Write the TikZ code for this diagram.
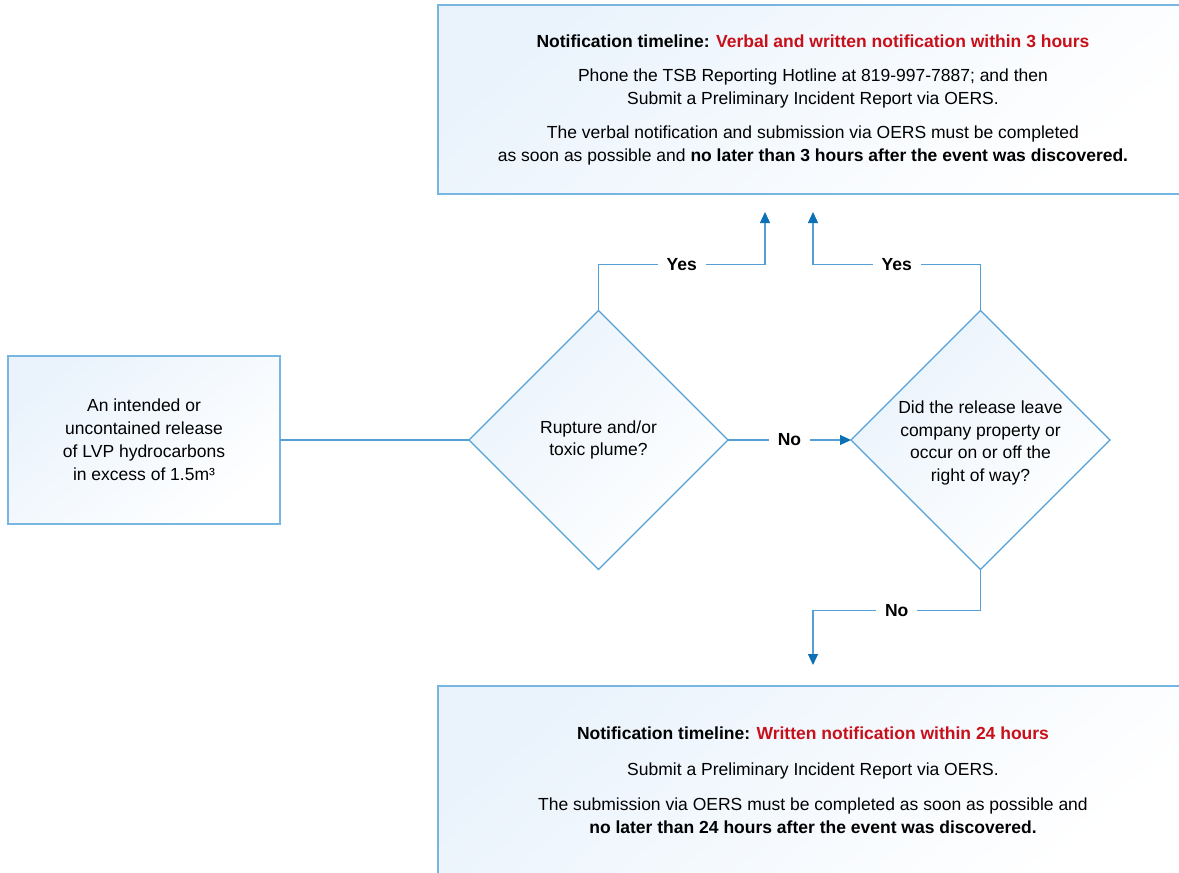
\documentclass[tikz,border=0pt]{standalone}
\usepackage{fontspec}
\setmainfont{Liberation Sans}
\usepackage{tikz}
\usepackage{xcolor}
\usetikzlibrary{shapes.geometric, arrows.meta, positioning}

\definecolor{flowblue}{RGB}{84,160,214}
\definecolor{tipblue}{RGB}{12,112,182}
\definecolor{edgeblue}{RGB}{120,182,226}
\definecolor{tint}{RGB}{234,243,252}
\definecolor{alertred}{RGB}{200,16,26}

\tikzset{
  infobox/.style={rectangle, draw=edgeblue, line width=1.3pt, top color=tint, middle color=white, bottom color=white, shading angle=40, align=center, inner sep=0pt, outer sep=0pt, font=\fontsize{17.5}{23}\selectfont},
  decision/.style={diamond, aspect=1, draw=flowblue, line width=1.2pt, top color=tint, middle color=white, bottom color=white, shading angle=45, minimum size=259pt, inner sep=0pt, outer sep=0pt, align=center, font=\fontsize{17.5}{22.5}\selectfont},
  flow/.style={draw=flowblue, line width=1.2pt, -{Triangle[length=11pt, width=10pt, color=tipblue]}},
  answer/.style={fill=white, inner xsep=9pt, inner ysep=2pt, font=\fontsize{17.5}{18}\selectfont\bfseries}
}

\begin{document}
\begin{tikzpicture}[x=1pt, y=-1pt]
\useasboundingbox (0,0) rectangle (1179,873);

\node[infobox, minimum width=272pt, minimum height=168pt] (release) at (144,440)
  {An intended or\\ uncontained release\\ of LVP hydrocarbons\\ in excess of 1.5m³};
\node[decision, right=189pt of release] (rupture) {Rupture and/or\\ toxic plume?};
\node[decision, right=123pt of rupture] (leave) {\mbox{}\\[-4pt]Did the release leave\\ company property or\\ occur on or off the\\ right of way?};

\node[infobox, minimum width=750pt, minimum height=189pt] (threehours) at (813,99.5)
  {\textbf{Notification timeline: \textcolor{alertred}{Verbal and written notification within 3 hours}}\\[11pt]
   Phone the TSB Reporting Hotline at 819-997-7887; and then\\
   Submit a Preliminary Incident Report via OERS.\\[11pt]
   The verbal notification and submission via OERS must be completed\\
   as soon as possible and \textbf{no later than 3 hours after the event was discovered.}};
\node[infobox, minimum width=750pt, minimum height=189pt] (dayreport) at (813,780.5)
  {\textbf{Notification timeline: \textcolor{alertred}{Written notification within 24 hours}}\\[13pt]
   Submit a Preliminary Incident Report via OERS.\\[12pt]
   The submission via OERS must be completed as soon as possible and\\
   \textbf{no later than 24 hours after the event was discovered.}};

% arrow ends below the boxes
\coordinate (yesleft) at (765,212);
\coordinate (yesright) at (813,212);
\coordinate (nodown) at (813,665);

\draw[draw=flowblue, line width=1.2pt] (release) -- (rupture);
\draw[flow] (rupture) -- node[answer] {No} (leave);
\draw[flow] (rupture.north) -- ++(0,-46) -| node[answer, pos=0.25] {Yes} (yesleft);
\draw[flow] (leave.north) -- ++(0,-46) -| node[answer, pos=0.25] {Yes} (yesright);
\draw[flow] (leave.south) -- ++(0,41) -| node[answer, pos=0.25] {No} (nodown);
\end{tikzpicture}
\end{document}
